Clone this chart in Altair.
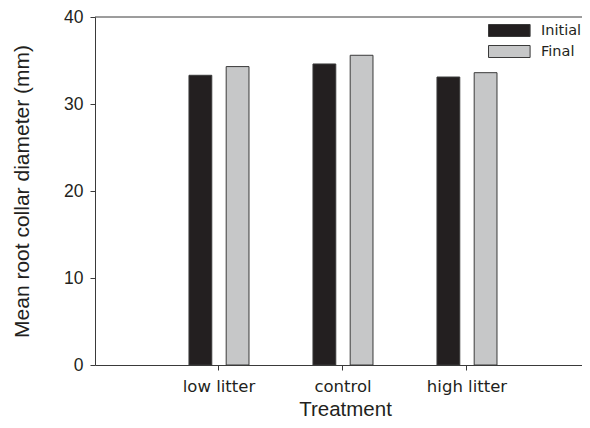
import altair as alt
import pandas as pd

treatments = ["low litter", "control", "high litter"]
times = ["Initial", "Final"]
initial_vals = [33.3, 34.6, 33.1]
final_vals = [34.3, 35.6, 33.6]
y_ticks = [0, 10, 20, 30, 40]

rows = []
for t, a, b in zip(treatments, initial_vals, final_vals):
    rows.append({"treatment": t, "time": "Initial", "value": a})
    rows.append({"treatment": t, "time": "Final", "value": b})
df = pd.DataFrame(rows)

FONT = "Liberation Sans"
WIDE = "DejaVu Sans"
INK = "#231f20"
LINE = "#3a3a3a"

x_enc = alt.X(
    "treatment:N",
    sort=treatments,
    scale=alt.Scale(paddingInner=0, paddingOuter=0.4637, align=0.539),
    axis=alt.Axis(
        title="Treatment",
        labelAngle=0,
        labelFont=WIDE,
        labelFontSize=16.5,
        labelBaseline="alphabetic",
        labelPadding=21,
        titleFontSize=20.5,
        titleFontWeight="normal",
        titleBaseline="alphabetic",
        titleX=250,
        titleY=50,
    ),
)

bars = alt.Chart(df).mark_bar(stroke=LINE, strokeWidth=1).encode(
    x=x_enc,
    xOffset=alt.XOffset(
        "time:N",
        sort=times,
        scale=alt.Scale(paddingInner=0.387, paddingOuter=0.86),
    ),
    y=alt.Y(
        "value:Q",
        scale=alt.Scale(domain=[0, 40], nice=False),
        axis=alt.Axis(
            title="Mean root collar diameter (mm)",
            values=y_ticks,
            labelFontSize=17.5,
            labelPadding=7,
            titleFontSize=21,
            titleFontWeight="normal",
            titleBaseline="alphabetic",
            titleX=-67,
            titleY=174,
            titleAngle=-90,
        ),
    ),
    color=alt.Color(
        "time:N",
        sort=times,
        scale=alt.Scale(domain=times, range=[INK, "#c6c7c8"]),
        legend=alt.Legend(
            title=None,
            orient="none",
            legendX=393,
            legendY=5,
            padding=0,
            symbolType="M-1,-0.75H4.2V0.75H-1Z",
            symbolSize=256,
            symbolStrokeColor=LINE,
            symbolStrokeWidth=1,
            symbolOpacity=1,
            labelOffset=36,
            labelFont=WIDE,
            labelFontSize=14.5,
            rowPadding=4,
        ),
    ),
)

top_rule = alt.Chart(pd.DataFrame({"v": [40]})).mark_rule(color=LINE, strokeWidth=1).encode(
    y=alt.Y("v:Q")
)

chart = (
    alt.layer(bars, top_rule)
    .properties(
        width=487,
        height=348,
        autosize="none",
        padding={"left": 87, "top": 9, "right": 0, "bottom": 55},
    )
    .configure(font=FONT)
    .configure_view(stroke=None)
    .configure_axis(
        grid=False,
        domainColor=LINE,
        tickColor=LINE,
        domainWidth=1,
        tickWidth=1,
        tickSize=5,
        labelColor=INK,
        titleColor=INK,
        titleFont=FONT,
    )
    .configure_legend(labelColor=INK)
)

chart.save("out.html", embed_options={"renderer": "svg", "actions": False})
